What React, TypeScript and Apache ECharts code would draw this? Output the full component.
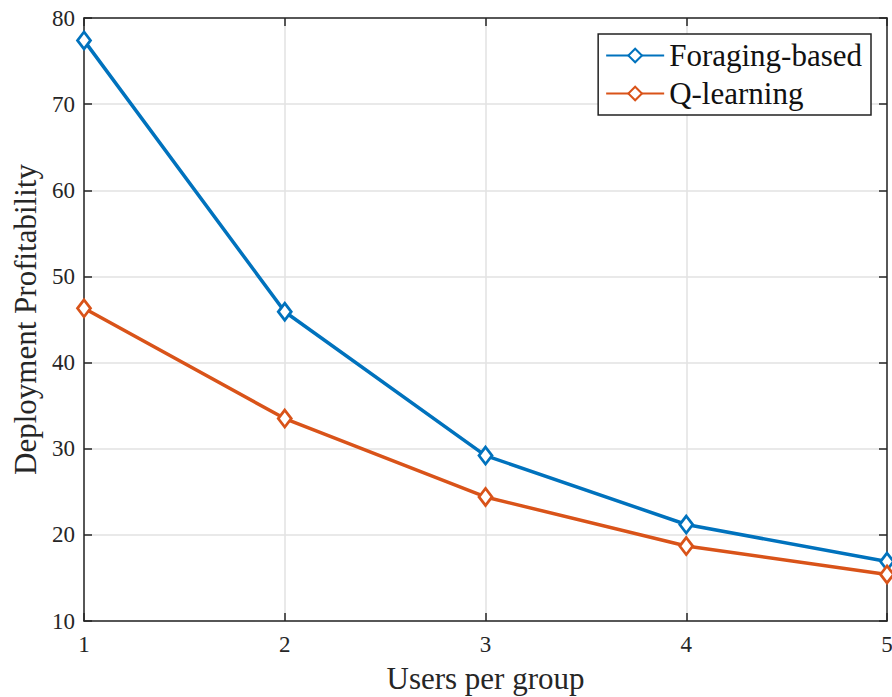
import React, { useEffect, useRef } from "react";
import * as echarts from "echarts";

const categories = [1, 2, 3, 4, 5];
const foraging = [77.4, 45.9, 29.2, 21.2, 16.9];
const qlearning = [46.3, 33.5, 24.4, 18.7, 15.4];
const seriesNames = ["Foraging-based", "Q-learning"];

const FONT = "Liberation Serif, Times New Roman, serif";
const AX = "#262626";

export default function App() {
  const ref = useRef<HTMLDivElement>(null);
  useEffect(() => {
    const chart = echarts.init(ref.current!, null, { renderer: "svg" });
    const mk = (name: string, data: number[], color: string) => ({
      name,
      type: "line",
      data: categories.map((c, i) => [c, data[i]]),
      symbol: "diamond",
      symbolSize: [13, 17],
      showAllSymbol: true,
      lineStyle: { color, width: 3.5 },
      itemStyle: { color: "#fff", borderColor: color, borderWidth: 2.8 },
      z: 5,
    });
    const tick = { inside: true, length: 8, lineStyle: { color: AX, width: 1.5 } };
    chart.setOption({
      animation: false,
      backgroundColor: "#fff",
      grid: { left: 84, right: 5, top: 18, bottom: 76, containLabel: false, outerBoundsMode: "none" },
      legend: {
        right: 21,
        top: 34,
        orient: "vertical",
        itemWidth: 58,
        itemHeight: 17,
        itemGap: 7,
        padding: [6, 9, 6, 7],
        borderColor: "#222",
        borderWidth: 1.5,
        backgroundColor: "#fff",
        textStyle: { fontFamily: FONT, fontSize: 31, color: "#111" },
        data: seriesNames,
      },
      xAxis: [
        {
          type: "value",
          min: 1,
          max: 5,
          interval: 1,
          name: "Users per group",
          nameLocation: "middle",
          nameGap: 42,
          nameTextStyle: { fontFamily: FONT, fontSize: 31, color: AX },
          axisLine: { lineStyle: { color: AX, width: 1.5 } },
          axisTick: tick,
          axisLabel: { fontFamily: FONT, fontSize: 23, color: AX, margin: 12 },
          splitLine: { show: true, lineStyle: { color: "#e2e2e2", width: 1.5 } },
        },
        {
          type: "value",
          position: "top",
          min: 1,
          max: 5,
          interval: 1,
          axisLine: { show: true, lineStyle: { color: AX, width: 1.5 } },
          axisTick: tick,
          axisLabel: { show: false },
          splitLine: { show: false },
        },
      ],
      yAxis: [
        {
          type: "value",
          min: 10,
          max: 80,
          interval: 10,
          name: "Deployment Profitability",
          nameLocation: "middle",
          nameGap: 37,
          nameTextStyle: { fontFamily: FONT, fontSize: 31, color: AX },
          axisLine: { show: true, lineStyle: { color: AX, width: 1.5 } },
          axisTick: tick,
          axisLabel: { fontFamily: FONT, fontSize: 23, color: AX, margin: 9 },
          splitLine: { show: true, lineStyle: { color: "#e2e2e2", width: 1.5 } },
        },
        {
          type: "value",
          position: "right",
          min: 10,
          max: 80,
          interval: 10,
          axisLine: { show: true, lineStyle: { color: AX, width: 1.5 } },
          axisTick: tick,
          axisLabel: { show: false },
          splitLine: { show: false },
        },
      ],
      series: [
        mk(seriesNames[0], foraging, "#0072BD"),
        mk(seriesNames[1], qlearning, "#D95319"),
      ],
    });
    return () => chart.dispose();
  }, []);
  return <div ref={ref} style={{ width: 892, height: 697, position: "absolute", left: 0, top: 0 }} />;
}
